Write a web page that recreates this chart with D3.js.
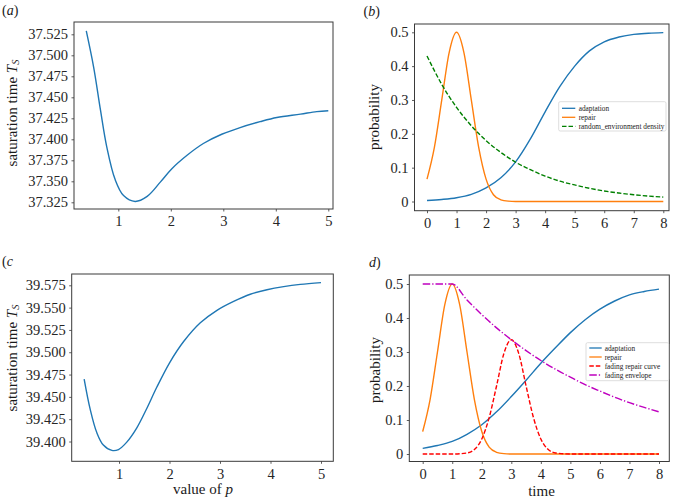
<!DOCTYPE html>
<html>
<head>
<meta charset="utf-8">
<script src="https://cdn.jsdelivr.net/npm/d3@7"></script>
<style>
  body { margin: 0; background: #fff; }
  svg, svg text { font-family: "Liberation Serif", "Times New Roman", serif; }
</style>
</head>
<body>
<div id="chart"></div>
<script>
// ---- data ----
// (a) saturation time vs p
const pA = [0.39, 0.53, 0.66, 0.78, 0.94, 1.10, 1.32, 1.55, 1.80, 2.02, 2.31, 2.62, 2.97, 3.32, 3.70, 4.02, 4.47, 4.78, 5.0];
const tsA = [37.529, 37.486, 37.435, 37.391, 37.352, 37.333, 37.326, 37.332, 37.349, 37.365, 37.381, 37.395, 37.406, 37.414, 37.421, 37.426, 37.430, 37.433, 37.434];
const ticksA = [37.325, 37.350, 37.375, 37.400, 37.425, 37.450, 37.475, 37.500, 37.525];

// (c) saturation time vs p
const pC = [0.31, 0.43, 0.56, 0.69, 0.86, 0.99, 1.15, 1.35, 1.55, 1.75, 2.01, 2.28, 2.61, 2.94, 3.27, 3.60, 3.93, 4.26, 4.59, 5.0];
const tsC = [39.470, 39.436, 39.410, 39.396, 39.390, 39.391, 39.399, 39.415, 39.437, 39.461, 39.489, 39.512, 39.533, 39.547, 39.557, 39.565, 39.570, 39.5735, 39.576, 39.578];
const ticksC = [39.400, 39.425, 39.450, 39.475, 39.500, 39.525, 39.550, 39.575];

const pTicks = [1, 2, 3, 4, 5];

// (b) and (d) probability vs time
const timeGrid = [0, 0.5, 1, 1.5, 2, 2.5, 3, 3.5, 4, 4.5, 5, 5.5, 6, 6.5, 7, 7.5, 8];
const adaptationB = [0.003, 0.006, 0.011, 0.021, 0.040, 0.070, 0.117, 0.185, 0.265, 0.340, 0.400, 0.445, 0.472, 0.486, 0.494, 0.497, 0.499];
const densityB = [0.430, 0.346, 0.278, 0.224, 0.180, 0.145, 0.116, 0.094, 0.075, 0.060, 0.049, 0.039, 0.031, 0.025, 0.020, 0.016, 0.013];
const adaptationD = [0.0166, 0.025, 0.037, 0.058, 0.086, 0.124, 0.169, 0.217, 0.267, 0.313, 0.357, 0.395, 0.426, 0.450, 0.468, 0.478, 0.485];
const envelopeD = [0.5, 0.5, 0.5, 0.453, 0.41, 0.371, 0.336, 0.304, 0.275, 0.249, 0.226, 0.204, 0.185, 0.167, 0.151, 0.137, 0.124];

const repairTime = [0, 0.25, 0.5, 0.75, 1, 1.25, 1.5, 1.75, 2, 2.25, 2.5, 2.75, 3, 4, 5, 6, 7, 8];
const repairProb = [0.066, 0.16, 0.30, 0.44, 0.50, 0.44, 0.30, 0.16, 0.066, 0.02, 0.005, 0.001, 0, 0, 0, 0, 0, 0];

const fadingTime = [0, 1, 1.5, 1.75, 2, 2.25, 2.5, 2.75, 3, 3.25, 3.5, 3.75, 4, 4.25, 4.5, 5, 6, 7, 8];
const fadingRepair = [0, 0, 0.003, 0.013, 0.044, 0.107, 0.2, 0.296, 0.336, 0.296, 0.2, 0.107, 0.044, 0.013, 0.003, 0, 0, 0, 0];

const timeTicks = [0, 1, 2, 3, 4, 5, 6, 7, 8];
const probTicks = [0, 0.1, 0.2, 0.3, 0.4, 0.5];

const BLUE = "#1f77b4", ORANGE = "#ff7f0e", GREEN = "#008000", RED = "#ff0000", MAGENTA = "#bf00bf";
const SERIF = "'Liberation Serif', 'Times New Roman', serif";

const svg = d3.select("#chart").append("svg")
  .attr("width", 676)
  .attr("height", 501)
  .style("font-family", SERIF);

svg.append("rect").attr("width", 676).attr("height", 501).attr("fill", "#fff");

const zip = (xs, ys) => xs.map((x, i) => [x, ys[i]]);

function drawPanel(cfg) {
  const x = d3.scaleLinear().domain(cfg.xDomain).range(cfg.xRange);
  const y = d3.scaleLinear().domain(cfg.yDomain).range(cfg.yRange);
  const f = cfg.frame;
  const g = svg.append("g");

  // clip to the axes box
  const clipId = "clip" + cfg.id;
  g.append("clipPath").attr("id", clipId)
    .append("rect")
    .attr("x", f.x0).attr("y", f.y0)
    .attr("width", f.x1 - f.x0).attr("height", f.y1 - f.y0);

  const line = d3.line()
    .x(d => x(d[0]))
    .y(d => y(d[1]))
    .curve(cfg.curve || d3.curveMonotoneX);

  const plot = g.append("g").attr("clip-path", "url(#" + clipId + ")");
  cfg.series.forEach(s => {
    plot.append("path")
      .datum(zip(s.x, s.y))
      .attr("fill", "none")
      .attr("stroke", s.color)
      .attr("stroke-width", 1.4)
      .attr("stroke-dasharray", s.dash || null)
      .attr("d", line);
  });

  // axes
  const xAxis = g.append("g")
    .attr("transform", "translate(0," + f.y1 + ")")
    .call(d3.axisBottom(x).tickValues(cfg.xTicks).tickSize(2.5).tickPadding(4.5)
      .tickFormat(cfg.xFormat));
  const yAxis = g.append("g")
    .attr("transform", "translate(" + f.x0 + ",0)")
    .call(d3.axisLeft(y).tickValues(cfg.yTicks).tickSize(2.5).tickPadding(3.5)
      .tickFormat(cfg.yFormat));
  [xAxis, yAxis].forEach(a => {
    a.attr("font-family", null).style("font-family", SERIF);
    a.select(".domain").remove();
    a.selectAll(".tick line").attr("stroke", "#333").attr("stroke-width", 0.8);
    a.selectAll(".tick text")
      .style("font-family", SERIF)
      .attr("font-size", 14.5)
      .attr("fill", "#262626");
  });

  // frame
  g.append("rect")
    .attr("x", f.x0).attr("y", f.y0)
    .attr("width", f.x1 - f.x0).attr("height", f.y1 - f.y0)
    .attr("fill", "none")
    .attr("stroke", "#3a3a3a")
    .attr("stroke-width", 1);

  // y label
  const yl = g.append("text")
    .attr("transform", "translate(" + cfg.yLabelPos[0] + "," + cfg.yLabelPos[1] + ") rotate(-90)")
    .attr("text-anchor", "middle")
    .attr("dominant-baseline", "central")
    .attr("font-size", 15)
    .attr("fill", "#1a1a1a");
  cfg.yLabel(yl);

  if (cfg.xLabel) {
    const xl = g.append("text")
      .attr("x", cfg.xLabelPos[0]).attr("y", cfg.xLabelPos[1])
      .attr("text-anchor", "middle")
      .attr("font-size", 15)
      .attr("fill", "#1a1a1a");
    cfg.xLabel(xl);
  }

  // panel tag
  const tag = g.append("text")
    .attr("x", cfg.tagPos[0]).attr("y", cfg.tagPos[1])
    .attr("font-size", 14)
    .attr("fill", "#1a1a1a");
  cfg.tag.forEach(t => tag.append("tspan").attr("font-style", t[1] ? "italic" : null).text(t[0]));

  // legend
  if (cfg.legend) {
    const L = cfg.legend;
    g.append("rect")
      .attr("x", L.x0).attr("y", L.y0)
      .attr("width", L.x1 - L.x0).attr("height", L.y1 - L.y0)
      .attr("rx", 1.5)
      .attr("fill", "#fff").attr("fill-opacity", 0.85)
      .attr("stroke", "#d4d4d4").attr("stroke-width", 0.8);
    cfg.series.forEach((s, i) => {
      const yy = L.rowY[i];
      g.append("line")
        .attr("x1", L.lineX[0]).attr("x2", L.lineX[1])
        .attr("y1", yy).attr("y2", yy)
        .attr("stroke", s.color).attr("stroke-width", 1.3)
        .attr("stroke-dasharray", s.dash || null);
      g.append("text")
        .attr("x", L.textX).attr("y", yy)
        .attr("dominant-baseline", "central")
        .attr("font-size", 7.3)
        .attr("fill", "#1a1a1a")
        .text(s.name);
    });
  }
}

function satLabel(t) {
  t.append("tspan").text("saturation time ");
  t.append("tspan").attr("font-style", "italic").text("T");
  t.append("tspan").attr("font-style", "italic").attr("font-size", 10.5).attr("dy", 3).text("S");
}

const fmt3 = d3.format(".3f");
const probFmt = d => d === 0 ? "0" : d.toFixed(1);

drawPanel({
  id: "a",
  frame: { x0: 74, x1: 333, y0: 22, y1: 209 },
  xDomain: [1, 5], xRange: [118.3, 328.3],
  yDomain: [37.325, 37.525], yRange: [202.3, 34.3],
  xTicks: pTicks, yTicks: ticksA, xFormat: d3.format("d"), yFormat: fmt3,
  curve: d3.curveCatmullRom.alpha(0.5),
  series: [{ x: pA, y: tsA, color: BLUE }],
  yLabelPos: [12, 113], yLabel: satLabel,
  tagPos: [2, 15], tag: [["(", false], ["a", true], [")", false]]
});

drawPanel({
  id: "b",
  frame: { x0: 414.5, x1: 669, y0: 24, y1: 210.7 },
  xDomain: [0, 8], xRange: [427, 663.3],
  yDomain: [0, 0.5], yRange: [201.5, 32.3],
  xTicks: timeTicks, yTicks: probTicks, xFormat: d3.format("d"), yFormat: probFmt,
  series: [
    { x: timeGrid, y: adaptationB, color: BLUE, name: "adaptation" },
    { x: repairTime, y: repairProb, color: ORANGE, name: "repair" },
    { x: timeGrid, y: densityB, color: GREEN, dash: "4.5,2", name: "random_environment density" }
  ],
  yLabelPos: [373.5, 117], yLabel: t => t.text("probability"),
  tagPos: [363.5, 16], tag: [["(", false], ["b", true], [")", false]],
  legend: { x0: 558.7, x1: 666, y0: 101.7, y1: 131, rowY: [108.3, 117.3, 126.3], lineX: [562, 575.3], textX: 578.7 }
});

drawPanel({
  id: "c",
  frame: { x0: 71.7, x1: 333.3, y0: 274, y1: 461.3 },
  xDomain: [1, 5], xRange: [119, 321],
  yDomain: [39.4, 39.575], yRange: [441.5, 285.3],
  xTicks: pTicks, yTicks: ticksC, xFormat: d3.format("d"), yFormat: fmt3,
  curve: d3.curveCatmullRom.alpha(0.5),
  series: [{ x: pC, y: tsC, color: BLUE }],
  yLabelPos: [12, 358], yLabel: satLabel,
  xLabelPos: [203, 494],
  xLabel: t => { t.append("tspan").text("value of "); t.append("tspan").attr("font-style", "italic").text("p"); },
  tagPos: [2, 266], tag: [["(", false], ["c", true]]
});

drawPanel({
  id: "d",
  frame: { x0: 409.3, x1: 669.3, y0: 275, y1: 461.5 },
  xDomain: [0, 8], xRange: [422.7, 659],
  yDomain: [0, 0.5], yRange: [454, 284],
  xTicks: timeTicks, yTicks: probTicks, xFormat: d3.format("d"), yFormat: probFmt,
  series: [
    { x: timeGrid, y: adaptationD, color: BLUE, name: "adaptation" },
    { x: repairTime, y: repairProb, color: ORANGE, name: "repair" },
    { x: fadingTime, y: fadingRepair, color: RED, dash: "4.5,2", name: "fading repair curve" },
    { x: timeGrid, y: envelopeD, color: MAGENTA, dash: "7.5,2,1.3,2", name: "fading envelope" }
  ],
  yLabelPos: [374.5, 370], yLabel: t => t.text("probability"),
  xLabelPos: [541.5, 496],
  xLabel: t => t.text("time"),
  tagPos: [369, 267], tag: [["d", true], [")", false]],
  legend: { x0: 586, x1: 668.7, y0: 342.7, y1: 380.7, rowY: [348, 357, 366, 375], lineX: [589.3, 601.7], textX: 604.7 }
});
</script>
</body>
</html>
